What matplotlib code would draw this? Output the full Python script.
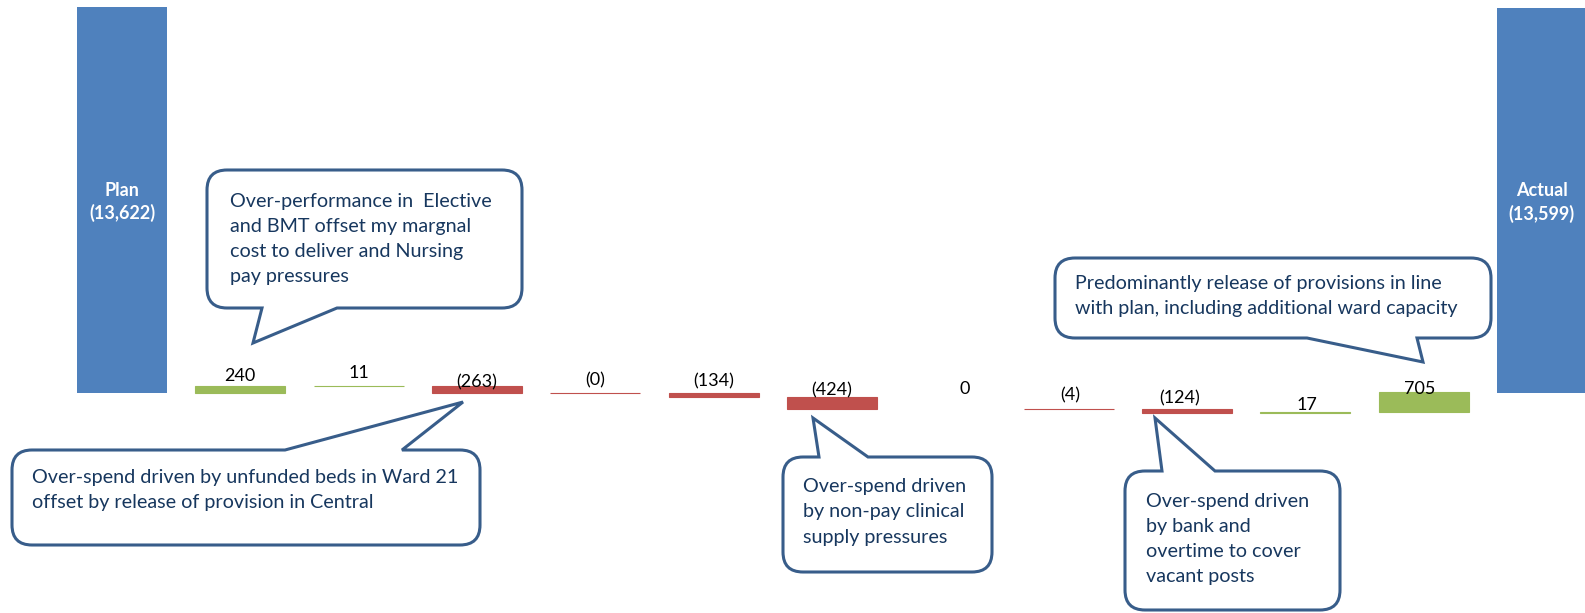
import matplotlib
matplotlib.use('Agg')
import matplotlib.pyplot as plt
from matplotlib.path import Path
from matplotlib.patches import PathPatch

plt.rcParams['font.family'] = ['Lato', 'DejaVu Sans']

# data
total_names = ['Plan', 'Actual']
plan_value = 13622
actual_value = 13599
deltas = [240, 11, -263, -0.3, -134, -424, 0, -4, -124, 17, 705]

notes = [
    'Over-performance in  Elective\nand BMT offset my margnal\ncost to deliver and Nursing\npay pressures',
    'Over-spend driven by unfunded beds in Ward 21\noffset by release of provision in Central',
    'Over-spend driven\nby non-pay clinical\nsupply pressures',
    'Over-spend driven\nby bank and\novertime to cover\nvacant posts',
    'Predominantly release of provisions in line\nwith plan, including additional ward capacity',
]

# layout (pixels)
W, H = 1585, 613
label_dx = [0, 0, 0, 0, 0, 0, 14, 2, -7, 2, -4]
label_dy = [10, 13, 4, 13, 12, 7, 20, 14, 11, 7, 3]
# box x0, y0, x1, y1, pointer side, base left, base right, tip, text x, text y
bubbles = [
    (207, 170, 522, 308, 'bottom', 262, 337, (253, 343), 230, 239),
    (12, 450, 480, 545, 'top', 285, 402, (463, 402), 32, 490),
    (783, 457, 992, 572, 'top', 819, 868, (813, 418), 803, 512),
    (1125, 471, 1340, 610, 'top', 1162, 1215, (1155, 418), 1146, 539),
    (1055, 258, 1491, 338, 'bottom', 1307, 1417, (1423, 362), 1075, 296),
]

BLUE = '#4F81BD'
GREEN = '#9BBB59'
RED = '#C0504D'


def fmt(v):
    n = int(round(abs(v)))
    if v < 0:
        return '(%d)' % n
    return '%d' % n


def bubble_path(x0, y0, x1, y1, side, b0, b1, tip, r=20):
    verts, codes = [], []

    def add(p, c):
        verts.append(p)
        codes.append(c)

    add((x0 + r, y0), Path.MOVETO)
    if side == 'top':
        add((b0, y0), Path.LINETO)
        add(tip, Path.LINETO)
        add((b1, y0), Path.LINETO)
    add((x1 - r, y0), Path.LINETO)
    add((x1, y0), Path.CURVE3)
    add((x1, y0 + r), Path.CURVE3)
    add((x1, y1 - r), Path.LINETO)
    add((x1, y1), Path.CURVE3)
    add((x1 - r, y1), Path.CURVE3)
    if side == 'bottom':
        add((b1, y1), Path.LINETO)
        add(tip, Path.LINETO)
        add((b0, y1), Path.LINETO)
    add((x0 + r, y1), Path.LINETO)
    add((x0, y1), Path.CURVE3)
    add((x0, y1 - r), Path.CURVE3)
    add((x0, y0 + r), Path.LINETO)
    add((x0, y0), Path.CURVE3)
    add((x0 + r, y0), Path.CURVE3)
    add((0, 0), Path.CLOSEPOLY)
    return Path([(x / W, 1 - y / H) for x, y in verts], codes)


fig = plt.figure(figsize=(W / 100, H / 100), dpi=100)
ax = fig.add_axes([0, 0, 1, 1])
ax.set_xlim(-1.031, 12.364)
ax.set_ylim(-7764, 13869)
ax.axis('off')

bw = 0.76
n = len(deltas)

# total bars
for i, (name, val) in zip([0, n + 1], zip(total_names, [plan_value, actual_value])):
    ax.bar(i, val, width=bw, color=BLUE, linewidth=0)
    ax.text(i, 0.5 * val - 80, '%s\n(%s)' % (name, format(val, ',')), ha='center', va='center',
            color='white', fontweight='bold', fontsize=13, linespacing=1.34)

# floating bars
running = 0
for k, d in enumerate(deltas):
    x = k + 1
    start, end = running, running + d
    col = GREEN if d > 0 else RED
    ax.bar(x, abs(d), bottom=min(start, end), width=bw, color=col,
           edgecolor=col if d != 0 else 'none', linewidth=0.8)
    ax.annotate(fmt(d), xy=(x, max(start, end)), xytext=(label_dx[k] * 0.72, label_dy[k] * 0.72),
                textcoords='offset points', ha='center', va='center', fontsize=13, color='black')
    running = end

# callouts
for (x0, y0, x1, y1, side, b0, b1, tip, tx, ty), txt in zip(bubbles, notes):
    p = PathPatch(bubble_path(x0, y0, x1, y1, side, b0, b1, tip), transform=fig.transFigure,
                  facecolor='white', edgecolor='#385D8A', linewidth=2.2, zorder=5)
    fig.add_artist(p)
    fig.text(tx / W, 1 - ty / H, txt, ha='left', va='center', fontsize=14.2,
             color='#17375E', linespacing=1.59, zorder=6)

fig.savefig('out.png', dpi=100)
